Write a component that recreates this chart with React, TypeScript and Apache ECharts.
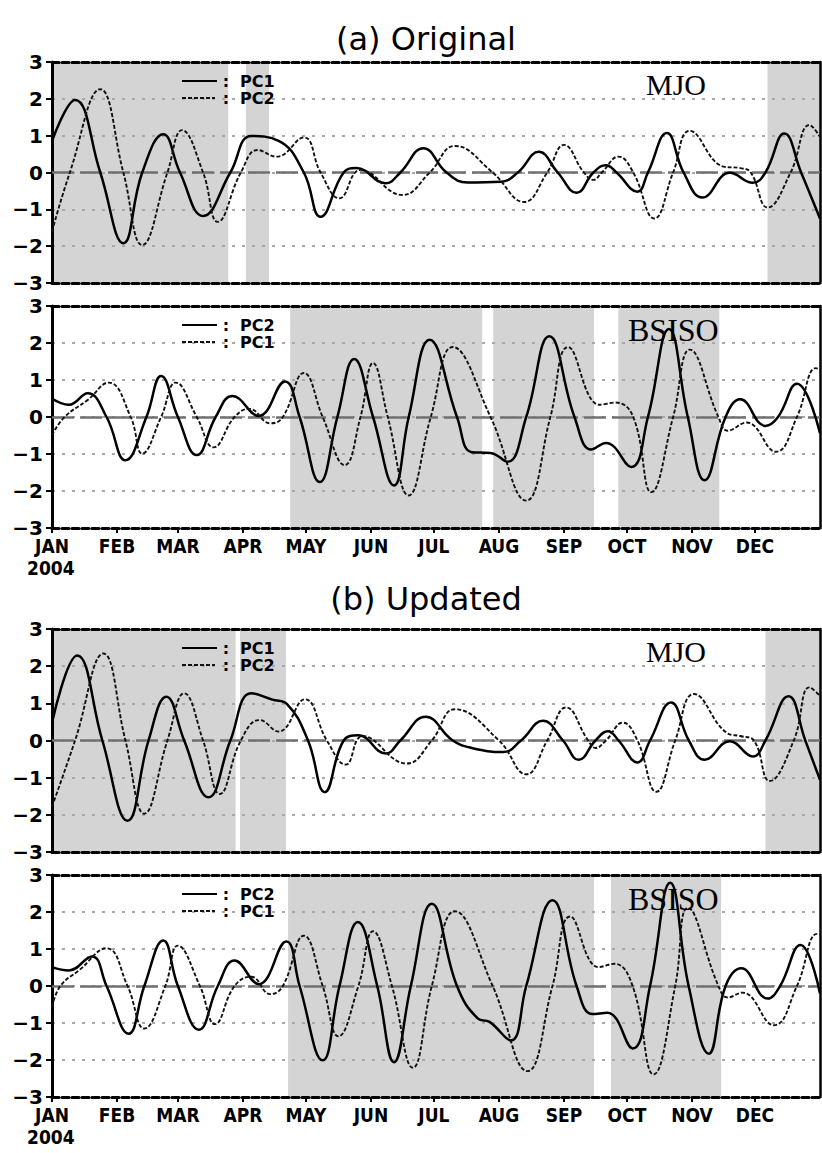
import { useEffect, useRef } from "react";
import * as echarts from "echarts";

// ---------- axis / tick data ----------
const MONTH_DAYS = [0, 31, 60, 91, 121, 152, 182, 213, 244, 274, 305, 335];
const MONTH_NAMES = ["JAN", "FEB", "MAR", "APR", "MAY", "JUN", "JUL", "AUG", "SEP", "OCT", "NOV", "DEC"];
const YEAR_LABEL = "2004";
const Y_MIN = -3;
const Y_MAX = 3;
const DAY_MAX = 366;

// ---------- (a) Original, MJO ----------
const aMjoPC1: number[][] = [
  [0, 0.85], [11, 1.97], [23, 0], [34, -1.92], [43, 0], [53, 1.04], [61, 0], [72, -1.18],
  [85, 0], [95, 0.99], [108, 0.86], [120, 0], [128, -1.2], [139, 0], [145, 0.12], [159, -0.29],
  [166, 0], [177, 0.66], [188, 0], [198, -0.27], [214, -0.25], [222, 0], [232, 0.56], [241, 0],
  [250, -0.55], [258, 0], [264, 0.2], [269, 0], [279, -0.52], [284, 0], [293, 1.07], [301, 0],
  [310, -0.68], [323, -0.01], [334, -0.28], [340, 0], [349, 1.06], [357, 0], [366, -1.25],
];
const aMjoPC2: number[][] = [
  [0, -1.6], [8.5, 0], [23, 2.26], [34, 0], [43, -1.97], [55, 0], [62, 1.15], [72, 0],
  [79, -1.34], [90, 0], [98, 0.61], [107, 0.43], [120, 0.95], [128, 0], [137, -0.7], [147, 0.07],
  [167, -0.61], [180, 0], [192, 0.72], [210, 0], [225, -0.8], [236, 0], [244, 0.75], [253.5, 0],
  [258, -0.2], [262, 0], [270, 0.43], [277, 0], [287, -1.25], [296, 0], [304, 1.13], [320, 0.16],
  [328, 0.12], [333, 0], [341, -0.95], [352, 0], [361, 1.29], [366, 0.97],
];
const aMjoShade: number[][] = [[0, 84], [92.4, 103.4], [341, 366]];

// ---------- (a) Original, BSISO ----------
const aBsisoPC2: number[][] = [
  [0, 0.5], [8, 0.33], [17, 0.64], [26, 0], [35, -1.17], [45, 0], [52, 1.11], [60, 0],
  [69, -1.03], [78, 0], [86, 0.57], [98.5, 0.03], [111, 0.96], [118, 0], [127.6, -1.76], [136, 0],
  [144, 1.57], [153, 0], [163, -1.85], [170, 0], [180, 2.09], [193, 0], [200, -0.95], [209, -0.97],
  [217, -1.21], [226, 0], [237, 2.18], [249, 0], [257, -0.88], [264, -0.7], [276, -1.35], [284, 0],
  [294, 2.38], [303, 0], [311, -1.71], [321, 0], [328, 0.48], [340, -0.24], [346, 0], [355, 0.9],
  [366, -0.44],
];
const aBsisoPC1: number[][] = [
  [0, -0.49], [6, 0], [17, 0.46], [27, 0.93], [37.5, 0], [43, -0.99], [52, 0], [59, 0.93],
  [69, 0], [77, -0.82], [87, 0], [94, 0.22], [104, -0.17], [110, 0], [120, 1.19], [129, 0],
  [139.5, -1.3], [147, 0], [153, 1.46], [160, 0], [170, -2.12], [180.5, 0], [191, 1.89], [209, 0],
  [226, -2.26], [237.5, 0], [246, 1.89], [261, 0.33], [268.5, 0.39], [277, 0], [285.6, -2.03],
  [296, 0], [304, 1.82], [317.6, 0], [322, -0.37], [331, -0.15], [345, -0.94], [355, 0],
  [364, 1.32], [366, 1.28],
];
const aBsisoShade: number[][] = [[113.5, 205], [210.3, 258.3], [269.9, 318]];

// ---------- (b) Updated, MJO ----------
const bMjoPC1: number[][] = [
  [0, 0.48], [12, 2.29], [24, 0], [36, -2.16], [46, 0], [54.5, 1.18], [63, 0], [74.6, -1.53],
  [85, 0], [95, 1.27], [105, 1.1], [112, 0.98], [122, 0], [130, -1.39], [139, 0], [146, 0.14],
  [159, -0.35], [166, 0], [178, 0.64], [191, 0], [200, -0.2], [215, -0.31], [223.5, 0],
  [234, 0.53], [243.5, 0], [251, -0.52], [259, 0], [265, 0.25], [270, 0], [279, -0.59], [285, 0],
  [295, 1.02], [303.5, 0], [311, -0.52], [323, -0.02], [334, -0.43], [340, 0], [351, 1.19],
  [359, 0], [366, -1.06],
];
const bMjoPC2: number[][] = [
  [0, -1.78], [11, 0], [24.5, 2.34], [35, 0], [44, -1.97], [55, 0], [63, 1.27], [72, 0],
  [80, -1.44], [90, 0], [99, 0.55], [108, 0.24], [120.5, 1.11], [131, 0], [140, -0.65], [148, 0.12],
  [169, -0.62], [181, 0], [192, 0.84], [213, 0], [226, -0.91], [236, 0], [245, 0.89], [255.5, 0],
  [259, -0.2], [264, 0], [272, 0.48], [279, 0], [288, -1.38], [297, 0], [306, 1.25], [322, 0.19],
  [328, 0.12], [334.5, 0], [342, -1.09], [353.5, 0], [361, 1.43], [366, 1.2],
];
const bMjoShade: number[][] = [[0, 87.5], [89.6, 111.5], [340, 366]];

// ---------- (b) Updated, BSISO ----------
const bBsisoPC2: number[][] = [
  [0, 0.51], [8, 0.42], [19, 0.8], [26, 0], [36.5, -1.29], [44, 0], [53, 1.23], [60, 0],
  [70, -1.18], [79, 0], [87, 0.69], [98.5, 0.05], [111.6, 1.2], [118, 0], [129, -2.01], [137, 0],
  [145.8, 1.73], [155, 0], [163, -2.06], [171, 0], [181, 2.22], [193, 0], [203, -0.88],
  [208.5, -0.97], [218.6, -1.47], [226, 0], [238.5, 2.32], [250, 0], [257.6, -0.76],
  [264.7, -0.72], [276.7, -1.69], [285, 0], [294.6, 2.79], [303.4, 0], [313, -1.83], [321, 0],
  [328.5, 0.48], [341, -0.34], [347, 0], [356.7, 1.11], [366, -0.2],
];
const bBsisoPC1: number[][] = [
  [0, -0.56], [4, 0], [13, 0.43], [26, 1.02], [36, 0], [44, -1.15], [54, 0], [60, 1.09],
  [70.5, 0], [77.7, -1.03], [87, 0], [95, 0.25], [104, -0.22], [110, 0], [120, 1.36], [129, 0],
  [136.5, -1.36], [146, 0], [153, 1.48], [162, 0], [172, -2.21], [181, 0], [192, 2.02], [210, 0],
  [226.6, -2.3], [238.5, 0], [247, 1.88], [260.5, 0.51], [268, 0.6], [276.7, 0], [286.7, -2.39],
  [297, 0], [303, 2.11], [317.6, 0], [322, -0.31], [329, -0.18], [344, -1.06], [355, 0],
  [364.6, 1.41], [366, 1.39],
];
const bBsisoShade: number[][] = [[112.5, 258.3], [266.4, 318.9]];

// ---------- texts ----------
const TITLES = ["(a) Original", "(b) Updated"];
const MJO_LEGEND = ["PC1", "PC2"];
const BSISO_LEGEND = ["PC2", "PC1"];

const PANELS = [
  { top: 62, height: 221, solid: aMjoPC1, dashed: aMjoPC2, shade: aMjoShade, legend: MJO_LEGEND, tag: "MJO", showX: false },
  { top: 306, height: 222, solid: aBsisoPC2, dashed: aBsisoPC1, shade: aBsisoShade, legend: BSISO_LEGEND, tag: "BSISO", showX: true },
  { top: 629, height: 223, solid: bMjoPC1, dashed: bMjoPC2, shade: bMjoShade, legend: MJO_LEGEND, tag: "MJO", showX: false },
  { top: 875, height: 222, solid: bBsisoPC2, dashed: bBsisoPC1, shade: bBsisoShade, legend: BSISO_LEGEND, tag: "BSISO", showX: true },
];

const LEFT = 52;
const WIDTH = 768;
const TICK_FONT = "'DejaVu Sans Condensed', 'DejaVu Sans', sans-serif";

function yFmt(v: number) {
  return v < 0 ? "\u2212" + Math.abs(v) : String(v);
}
function xFmt(v: number) {
  const i = MONTH_DAYS.indexOf(Math.round(v));
  return i < 0 ? "" : MONTH_NAMES[i];
}

function buildOption() {
  const grid: any[] = [];
  const xAxis: any[] = [];
  const yAxis: any[] = [];
  const series: any[] = [];
  const graphic: any[] = [];
  const borderDash = { color: "#000", width: 3, type: [7, 3] as number[] };

  PANELS.forEach((p, i) => {
    grid.push({ left: LEFT, top: p.top, width: WIDTH, height: p.height });
    xAxis.push({
      type: "value", gridIndex: i, min: 0, max: DAY_MAX, position: "bottom", z: 4,
      axisLine: { show: true, onZero: false, lineStyle: borderDash },
      splitLine: { show: false },
      axisTick: { show: p.showX, customValues: MONTH_DAYS, length: 5, lineStyle: { color: "#000", width: 2 } },
      axisLabel: {
        show: p.showX, customValues: MONTH_DAYS, formatter: xFmt, margin: 8,
        fontFamily: TICK_FONT, fontWeight: "bold", fontSize: 19, color: "#000", lineHeight: 19,
        hideOverlap: false,
      },
    });
    xAxis.push({
      type: "value", gridIndex: i, min: 0, max: DAY_MAX, position: "top", z: 4,
      axisLine: { show: true, onZero: false, lineStyle: borderDash },
      splitLine: { show: false }, axisTick: { show: false }, axisLabel: { show: false },
    });
    yAxis.push({
      type: "value", gridIndex: i, min: Y_MIN, max: Y_MAX, interval: 1, position: "left", z: 3,
      axisLine: { show: true, onZero: false, lineStyle: { color: "#000", width: 3 } },
      axisTick: { show: true, length: 6, lineStyle: { color: "#000", width: 2 } },
      axisLabel: {
        formatter: yFmt, margin: 9, fontFamily: "'DejaVu Sans', sans-serif",
        fontWeight: "bold", fontSize: 20, color: "#000", lineHeight: 16,
      },
      splitLine: { show: true, lineStyle: { color: "#a8a8a8", width: 2, type: [3, 7] } },
    });
    yAxis.push({
      type: "value", gridIndex: i, min: Y_MIN, max: Y_MAX, interval: 1, position: "right", z: 4,
      axisLine: { show: true, onZero: false, lineStyle: { color: "#000", width: 2.5 } },
      axisTick: { show: false }, axisLabel: { show: false }, splitLine: { show: false },
    });

    // shading + zero line
    series.push({
      type: "line", xAxisIndex: 2 * i, yAxisIndex: 2 * i, data: [[0, 0]], silent: true,
      showSymbol: false, symbol: "none", lineStyle: { width: 0, opacity: 0 }, z: 1,
      markArea: {
        silent: true, itemStyle: { color: "#d4d4d4" },
        data: p.shade.map(([a, b]) => [{ xAxis: a }, { xAxis: b }]),
      },
      markLine: {
        silent: true, symbol: ["none", "none"], label: { show: false },
        lineStyle: { color: "#707070", width: 2.5, type: [22, 6] },
        data: [{ yAxis: 0 }],
      },
    });
    series.push({
      type: "line", name: p.legend[0], xAxisIndex: 2 * i, yAxisIndex: 2 * i, data: p.solid,
      smooth: 0.45, showSymbol: false, symbol: "none", silent: true, z: 6,
      lineStyle: { color: "#000", width: 2.5 },
    });
    series.push({
      type: "line", name: p.legend[1], xAxisIndex: 2 * i, yAxisIndex: 2 * i, data: p.dashed,
      smooth: 0.45, showSymbol: false, symbol: "none", silent: true, z: 6,
      lineStyle: { color: "#111", width: 1.9, type: [4, 2] },
    });

    // legend
    const y1 = p.top + 19;
    const y2 = p.top + 36;
    const lf = { fontFamily: "'DejaVu Sans', sans-serif", fontWeight: "bold", fontSize: 16, fill: "#000" };
    graphic.push(
      { type: "line", z: 10, shape: { x1: 182, y1, x2: 217, y2: y1 }, style: { stroke: "#000", lineWidth: 2 } },
      { type: "line", z: 10, shape: { x1: 182, y1: y2, x2: 215, y2 }, style: { stroke: "#111", lineWidth: 1.8, lineDash: [4, 2] } },
      { type: "text", z: 10, x: 226, y: y1, style: { ...lf, text: ":", align: "center", verticalAlign: "middle", textAlign: "center", textVerticalAlign: "middle" } },
      { type: "text", z: 10, x: 226, y: y2, style: { ...lf, text: ":", align: "center", verticalAlign: "middle", textAlign: "center", textVerticalAlign: "middle" } },
      { type: "text", z: 10, x: 240, y: y1, style: { ...lf, text: p.legend[0], align: "left", verticalAlign: "middle", textAlign: "left", textVerticalAlign: "middle" } },
      { type: "text", z: 10, x: 240, y: y2, style: { ...lf, text: p.legend[1], align: "left", verticalAlign: "middle", textAlign: "left", textVerticalAlign: "middle" } },
    );
    const isMjo = p.tag === "MJO";
    graphic.push({
      type: "text", z: 10, x: isMjo ? 646 : 628, y: p.top + (isMjo ? 22 : 24),
      style: {
        text: p.tag, fontFamily: "'Liberation Serif', 'DejaVu Serif', serif", fontSize: isMjo ? 30 : 32,
        fill: "#000", align: "left", verticalAlign: "middle", textAlign: "left", textVerticalAlign: "middle",
      },
    });
    if (p.showX) {
      graphic.push({
        type: "text", z: 10, x: 27, y: p.top + p.height + 40,
        style: {
          text: YEAR_LABEL, fontFamily: TICK_FONT, fontWeight: "bold", fontSize: 19, fill: "#000",
          align: "left", verticalAlign: "middle", textAlign: "left", textVerticalAlign: "middle",
        },
      });
    }
  });

  [39, 599].forEach((y, k) => {
    graphic.push({
      type: "text", z: 10, x: 426, y,
      style: {
        text: TITLES[k], fontFamily: "'DejaVu Sans', sans-serif", fontSize: 32, fill: "#000",
        align: "center", verticalAlign: "middle", textAlign: "center", textVerticalAlign: "middle",
      },
    });
  });

  return {
    animation: false,
    backgroundColor: "#fff",
    grid, xAxis, yAxis, series, graphic,
  };
}

export default function App() {
  const ref = useRef<HTMLDivElement>(null);
  useEffect(() => {
    const chart = echarts.init(ref.current!, null, { renderer: "svg" });
    chart.setOption(buildOption() as any);
    return () => chart.dispose();
  }, []);
  return (
    <div
      ref={ref}
      style={{ position: "absolute", left: 0, top: 0, width: 822, height: 1153, background: "#fff" }}
    />
  );
}
